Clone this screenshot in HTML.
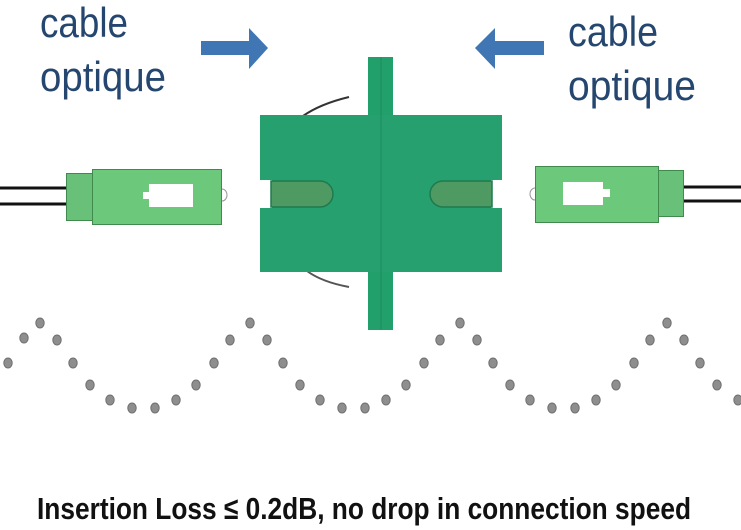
<!DOCTYPE html>
<html><head><meta charset="utf-8"><style>
html,body{margin:0;padding:0;background:#fff;}
svg{display:block;}
</style></head><body>
<svg width="741" height="530" viewBox="0 0 741 530" xmlns="http://www.w3.org/2000/svg">
<defs>
<g id="d"><ellipse cx="0" cy="0" rx="4.2" ry="5" fill="#8e8e8e" stroke="#6f6f6f" stroke-width="1"/></g>
<g id="w">
<use href="#d" x="0" y="323"/><use href="#d" x="17" y="340"/><use href="#d" x="33" y="363"/>
<use href="#d" x="50" y="385"/><use href="#d" x="70" y="400"/><use href="#d" x="92" y="408"/>
<use href="#d" x="115" y="408"/><use href="#d" x="136" y="400"/><use href="#d" x="156" y="385"/>
<use href="#d" x="174" y="363"/><use href="#d" x="190" y="340"/>
</g>
</defs>
<!-- texts -->
<g font-family="Liberation Sans, sans-serif" font-size="42" fill="#25476f">
<text x="40" y="37" textLength="88" lengthAdjust="spacingAndGlyphs">cable</text>
<text x="40" y="91" textLength="126" lengthAdjust="spacingAndGlyphs">optique</text>
<text x="568" y="46" textLength="90" lengthAdjust="spacingAndGlyphs">cable</text>
<text x="568" y="100" textLength="128" lengthAdjust="spacingAndGlyphs">optique</text>
</g>
<!-- arrows -->
<polygon points="201,41 249,41 249,28 268,48 249,69 249,55 201,55" fill="#3f76b3"/>
<polygon points="544,41 495,41 495,28 475,48 495,69 495,55 544,55" fill="#3f76b3"/>
<!-- wires -->
<path d="M303,116 Q320,104 349,97" stroke="#333" stroke-width="2" fill="none"/>
<path d="M307,271 Q322,282 349,287" stroke="#555" stroke-width="2" fill="none"/>
<!-- adapter -->
<rect x="368" y="57" width="25" height="273" fill="#22a06c"/>
<rect x="260" y="115" width="242" height="157" fill="#27a070"/>
<line x1="381" y1="57" x2="381" y2="330" stroke="#1d8c5c" stroke-width="1"/>
<rect x="260" y="180" width="12" height="28" fill="#fff"/>
<path d="M271,181 H320 A13,13 0 0 1 320,207 H271 Z" fill="#4e9a62" stroke="#1f7a4e" stroke-width="1.5"/>
<rect x="491" y="180" width="11" height="28" fill="#fff"/>
<path d="M492,181 H443 A13,13 0 0 0 443,207 H492 Z" fill="#4e9a62" stroke="#1f7a4e" stroke-width="1.5"/>
<!-- left connector -->
<line x1="0" y1="188" x2="67" y2="188" stroke="#111" stroke-width="3"/>
<line x1="0" y1="204" x2="67" y2="204" stroke="#111" stroke-width="3"/>
<rect x="66.5" y="173.5" width="26" height="47" fill="#69c079" stroke="#3f8a4c"/>
<rect x="92.5" y="169.5" width="129" height="55" fill="#6cc87a" stroke="#3f8a4c"/>
<rect x="149" y="184" width="44" height="23" fill="#fff"/>
<rect x="143" y="192" width="7" height="7" fill="#fff"/>
<path d="M222,189 A5,6 0 0 1 222,201" stroke="#999" stroke-width="1" fill="none"/>
<!-- right connector -->
<line x1="683" y1="187" x2="741" y2="187" stroke="#111" stroke-width="3"/>
<line x1="683" y1="201" x2="741" y2="201" stroke="#111" stroke-width="3"/>
<rect x="658.5" y="170.5" width="25" height="46" fill="#69c079" stroke="#3f8a4c"/>
<rect x="535.5" y="166.5" width="123" height="56" fill="#6cc87a" stroke="#3f8a4c"/>
<rect x="563" y="182" width="40" height="23" fill="#fff"/>
<rect x="602" y="189" width="8" height="8" fill="#fff"/>
<path d="M535,188 A5,6 0 0 0 535,200" stroke="#999" stroke-width="1" fill="none"/>
<!-- dots -->
<use href="#d" x="8" y="363"/><use href="#d" x="24" y="338"/>
<use href="#w" x="40" y="0"/>
<use href="#w" x="250" y="0"/>
<use href="#w" x="460" y="0"/>
<use href="#d" x="667" y="323"/><use href="#d" x="684" y="340"/><use href="#d" x="700" y="363"/>
<use href="#d" x="717" y="385"/><use href="#d" x="738" y="400"/>
<!-- bottom text -->
<text x="37" y="519" font-family="Liberation Sans Narrow, Liberation Sans, sans-serif" font-weight="bold" font-size="31" fill="#111" textLength="654" lengthAdjust="spacingAndGlyphs">Insertion Loss ≤ 0.2dB, no drop in connection speed</text>
</svg>
</body></html>
